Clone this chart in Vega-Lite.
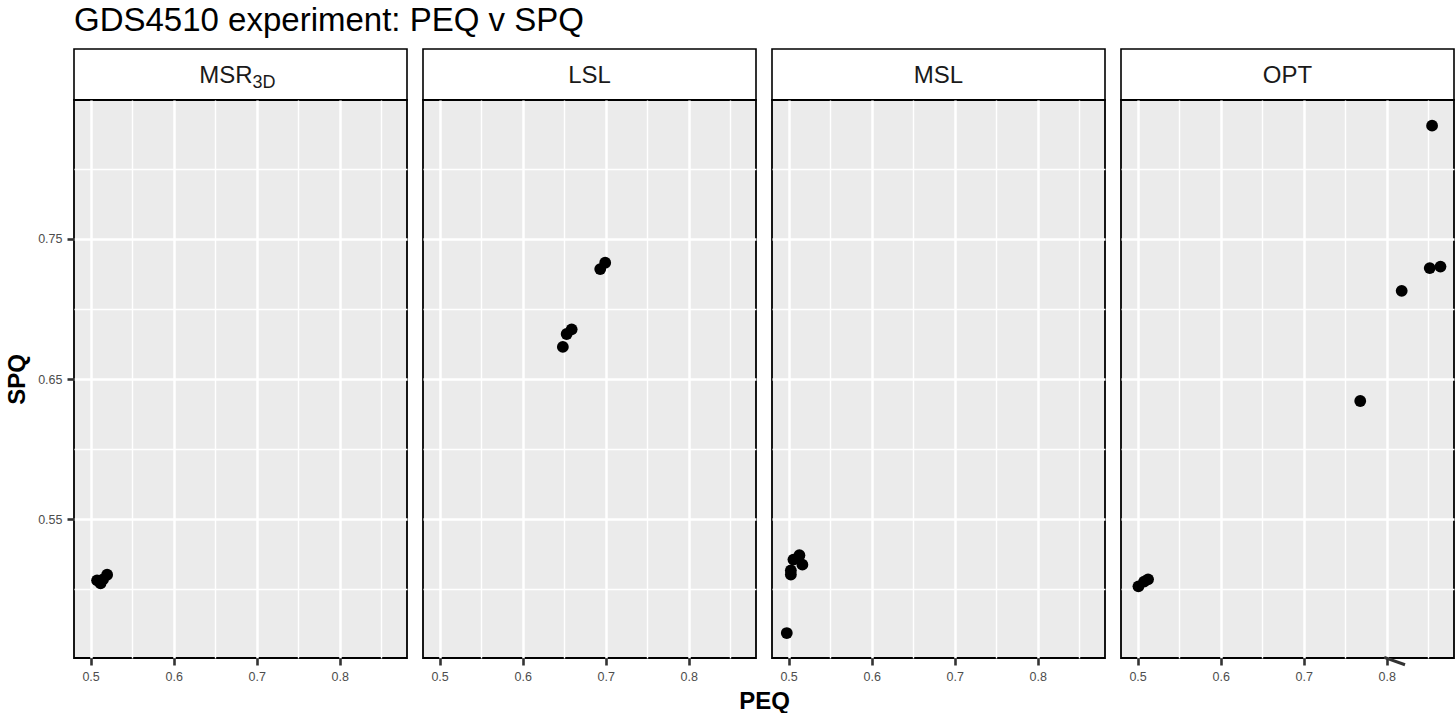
{
  "$schema": "https://vega.github.io/schema/vega-lite/v6.json",
  "background": "white",
  "padding": {"left": 4, "top": 5, "right": 2, "bottom": 0},
  "title": {"text": "GDS4510 experiment: PEQ v SPQ", "anchor": "start", "frame": "group", "fontSize": 33, "fontWeight": "normal", "font": "Liberation Sans", "color": "black", "offset": 10},
  "datasets": {
    "points": [
      {"panel": "MSR3D", "PEQ": 0.5078, "SPQ": 0.5064},
      {"panel": "MSR3D", "PEQ": 0.5120, "SPQ": 0.5043},
      {"panel": "MSR3D", "PEQ": 0.5150, "SPQ": 0.5071},
      {"panel": "MSR3D", "PEQ": 0.5199, "SPQ": 0.5104},
      {"panel": "LSL", "PEQ": 0.6484, "SPQ": 0.6729},
      {"panel": "LSL", "PEQ": 0.6530, "SPQ": 0.6821},
      {"panel": "LSL", "PEQ": 0.6590, "SPQ": 0.6854},
      {"panel": "LSL", "PEQ": 0.6934, "SPQ": 0.7284},
      {"panel": "LSL", "PEQ": 0.6994, "SPQ": 0.7329},
      {"panel": "MSL", "PEQ": 0.4978, "SPQ": 0.4688},
      {"panel": "MSL", "PEQ": 0.5027, "SPQ": 0.5105},
      {"panel": "MSL", "PEQ": 0.5027, "SPQ": 0.5134},
      {"panel": "MSL", "PEQ": 0.5058, "SPQ": 0.5212},
      {"panel": "MSL", "PEQ": 0.5130, "SPQ": 0.5243},
      {"panel": "MSL", "PEQ": 0.5166, "SPQ": 0.5176},
      {"panel": "OPT", "PEQ": 0.5010, "SPQ": 0.5021},
      {"panel": "OPT", "PEQ": 0.5078, "SPQ": 0.5055},
      {"panel": "OPT", "PEQ": 0.5126, "SPQ": 0.5071},
      {"panel": "OPT", "PEQ": 0.7681, "SPQ": 0.6343},
      {"panel": "OPT", "PEQ": 0.8180, "SPQ": 0.7129},
      {"panel": "OPT", "PEQ": 0.8518, "SPQ": 0.7291},
      {"panel": "OPT", "PEQ": 0.8647, "SPQ": 0.7302},
      {"panel": "OPT", "PEQ": 0.8546, "SPQ": 0.8307}
    ],
    "strips": [
      {"panel": "MSR3D", "label": "MSR", "sub": "3D"},
      {"panel": "LSL", "label": "LSL", "sub": ""},
      {"panel": "MSL", "label": "MSL", "sub": ""},
      {"panel": "OPT", "label": "OPT", "sub": ""}
    ],
    "segment": [
      {"panel": "OPT", "x": 0.797, "y": 0.4514, "x2": 0.822, "y2": 0.4462}
    ]
  },
  "columns": 4,
  "spacing": {"row": 0, "column": 16},
  "bounds": "flush",
  "concat": [
    {
      "width": 333, "height": 51,
      "data": {"name": "strips"},
      "transform": [{"filter": "datum.panel == 'MSR3D'"}],
      "view": {"fill": "white", "stroke": "black", "strokeWidth": 1.6},
      "layer": [
        {"mark": {"type": "text", "fontSize": 24, "font": "Liberation Sans", "color": "#1A1A1A", "align": "right", "dx": 12, "dy": 1}, "encoding": {"text": {"field": "label"}}},
        {"mark": {"type": "text", "fontSize": 18, "font": "Liberation Sans", "color": "#1A1A1A", "align": "left", "dx": 12, "dy": 8}, "encoding": {"text": {"field": "sub"}}}
      ]
    },
    {
      "width": 333, "height": 51,
      "data": {"name": "strips"},
      "transform": [{"filter": "datum.panel == 'LSL'"}],
      "view": {"fill": "white", "stroke": "black", "strokeWidth": 1.6},
      "mark": {"type": "text", "fontSize": 24, "font": "Liberation Sans", "color": "#1A1A1A", "dy": 1},
      "encoding": {"text": {"field": "label"}}
    },
    {
      "width": 333, "height": 51,
      "data": {"name": "strips"},
      "transform": [{"filter": "datum.panel == 'MSL'"}],
      "view": {"fill": "white", "stroke": "black", "strokeWidth": 1.6},
      "mark": {"type": "text", "fontSize": 24, "font": "Liberation Sans", "color": "#1A1A1A", "dy": 1},
      "encoding": {"text": {"field": "label"}}
    },
    {
      "width": 333, "height": 51,
      "data": {"name": "strips"},
      "transform": [{"filter": "datum.panel == 'OPT'"}],
      "view": {"fill": "white", "stroke": "black", "strokeWidth": 1.6},
      "mark": {"type": "text", "fontSize": 24, "font": "Liberation Sans", "color": "#1A1A1A", "dy": 1},
      "encoding": {"text": {"field": "label"}}
    },
    {
      "width": 333, "height": 558,
      "data": {"name": "points"},
      "transform": [{"filter": "datum.panel == 'MSR3D'"}],
      "view": {"fill": "#EBEBEB", "stroke": "black", "strokeWidth": 1.8},
      "mark": {"type": "point", "filled": true, "size": 140, "color": "black", "opacity": 1},
      "encoding": {
        "x": {"field": "PEQ", "type": "quantitative", "scale": {"domain": [0.48, 0.881], "nice": false, "zero": false},
          "axis": {"title": null, "values": [0.5, 0.55, 0.6, 0.65, 0.7, 0.75, 0.8, 0.85], "labelExpr": "round(datum.value*20)%2==0 ? format(datum.value,'.1f') : ''",
            "gridWidth": {"condition": {"test": "round(datum.value*20)%2==0", "value": 2.5}, "value": 1.4},
            "tickOpacity": {"condition": {"test": "round(datum.value*20)%2==0", "value": 1}, "value": 0}}},
        "y": {"field": "SPQ", "type": "quantitative", "scale": {"domain": [0.451, 0.849], "nice": false, "zero": false},
          "axis": {"title": "SPQ", "values": [0.5, 0.55, 0.6, 0.65, 0.7, 0.75, 0.8], "labelExpr": "round(datum.value*20)%2==1 ? format(datum.value,'.2f') : ''",
            "titleFontSize": 24, "titleFontWeight": "bold", "titleColor": "black", "titlePadding": 8,
            "gridWidth": {"condition": {"test": "round(datum.value*20)%2==1", "value": 2.5}, "value": 1.4},
            "tickOpacity": {"condition": {"test": "round(datum.value*20)%2==1", "value": 1}, "value": 0}}}
      }
    },
    {
      "width": 333, "height": 558,
      "data": {"name": "points"},
      "transform": [{"filter": "datum.panel == 'LSL'"}],
      "view": {"fill": "#EBEBEB", "stroke": "black", "strokeWidth": 1.8},
      "mark": {"type": "point", "filled": true, "size": 140, "color": "black", "opacity": 1},
      "encoding": {
        "x": {"field": "PEQ", "type": "quantitative", "scale": {"domain": [0.48, 0.881], "nice": false, "zero": false},
          "axis": {"title": "PEQ", "titleX": 341, "titleFontSize": 24, "titleFontWeight": "bold", "titleColor": "black", "titlePadding": 7,
            "values": [0.5, 0.55, 0.6, 0.65, 0.7, 0.75, 0.8, 0.85], "labelExpr": "round(datum.value*20)%2==0 ? format(datum.value,'.1f') : ''",
            "gridWidth": {"condition": {"test": "round(datum.value*20)%2==0", "value": 2.5}, "value": 1.4},
            "tickOpacity": {"condition": {"test": "round(datum.value*20)%2==0", "value": 1}, "value": 0}}},
        "y": {"field": "SPQ", "type": "quantitative", "scale": {"domain": [0.451, 0.849], "nice": false, "zero": false},
          "axis": {"title": null, "labels": false, "ticks": false, "values": [0.5, 0.55, 0.6, 0.65, 0.7, 0.75, 0.8],
            "gridWidth": {"condition": {"test": "round(datum.value*20)%2==1", "value": 2.5}, "value": 1.4}}}
      }
    },
    {
      "width": 333, "height": 558,
      "data": {"name": "points"},
      "transform": [{"filter": "datum.panel == 'MSL'"}],
      "view": {"fill": "#EBEBEB", "stroke": "black", "strokeWidth": 1.8},
      "mark": {"type": "point", "filled": true, "size": 140, "color": "black", "opacity": 1},
      "encoding": {
        "x": {"field": "PEQ", "type": "quantitative", "scale": {"domain": [0.48, 0.881], "nice": false, "zero": false},
          "axis": {"title": null, "values": [0.5, 0.55, 0.6, 0.65, 0.7, 0.75, 0.8, 0.85], "labelExpr": "round(datum.value*20)%2==0 ? format(datum.value,'.1f') : ''",
            "gridWidth": {"condition": {"test": "round(datum.value*20)%2==0", "value": 2.5}, "value": 1.4},
            "tickOpacity": {"condition": {"test": "round(datum.value*20)%2==0", "value": 1}, "value": 0}}},
        "y": {"field": "SPQ", "type": "quantitative", "scale": {"domain": [0.451, 0.849], "nice": false, "zero": false},
          "axis": {"title": null, "labels": false, "ticks": false, "values": [0.5, 0.55, 0.6, 0.65, 0.7, 0.75, 0.8],
            "gridWidth": {"condition": {"test": "round(datum.value*20)%2==1", "value": 2.5}, "value": 1.4}}}
      }
    },
    {
      "width": 333, "height": 558,
      "view": {"fill": "#EBEBEB", "stroke": "black", "strokeWidth": 1.8},
      "layer": [
        {
          "data": {"name": "points"},
          "transform": [{"filter": "datum.panel == 'OPT'"}],
          "mark": {"type": "point", "filled": true, "size": 140, "color": "black", "opacity": 1},
          "encoding": {
            "x": {"field": "PEQ", "type": "quantitative", "scale": {"domain": [0.48, 0.881], "nice": false, "zero": false},
              "axis": {"title": null, "values": [0.5, 0.55, 0.6, 0.65, 0.7, 0.75, 0.8, 0.85], "labelExpr": "round(datum.value*20)%2==0 ? format(datum.value,'.1f') : ''",
                "gridWidth": {"condition": {"test": "round(datum.value*20)%2==0", "value": 2.5}, "value": 1.4},
                "tickOpacity": {"condition": {"test": "round(datum.value*20)%2==0", "value": 1}, "value": 0}}},
            "y": {"field": "SPQ", "type": "quantitative", "scale": {"domain": [0.451, 0.849], "nice": false, "zero": false},
              "axis": {"title": null, "labels": false, "ticks": false, "values": [0.5, 0.55, 0.6, 0.65, 0.7, 0.75, 0.8],
                "gridWidth": {"condition": {"test": "round(datum.value*20)%2==1", "value": 2.5}, "value": 1.4}}}
          }
        },
        {
          "data": {"name": "segment"},
          "mark": {"type": "rule", "color": "#333333", "strokeWidth": 3, "clip": false},
          "encoding": {
            "x": {"field": "x", "type": "quantitative"},
            "y": {"field": "y", "type": "quantitative"},
            "x2": {"field": "x2"},
            "y2": {"field": "y2"}
          }
        }
      ]
    }
  ],
  "config": {
    "font": "Liberation Sans",
    "axis": {
      "domain": false,
      "grid": true,
      "gridColor": "white",
      "tickColor": "#333333",
      "tickSize": 7,
      "tickWidth": 2.6,
      "labelFontSize": 12.5,
      "labelColor": "#4D4D4D",
      "labelPadding": 5,
      "labelFont": "Liberation Sans",
      "titleFont": "Liberation Sans"
    }
  }
}
